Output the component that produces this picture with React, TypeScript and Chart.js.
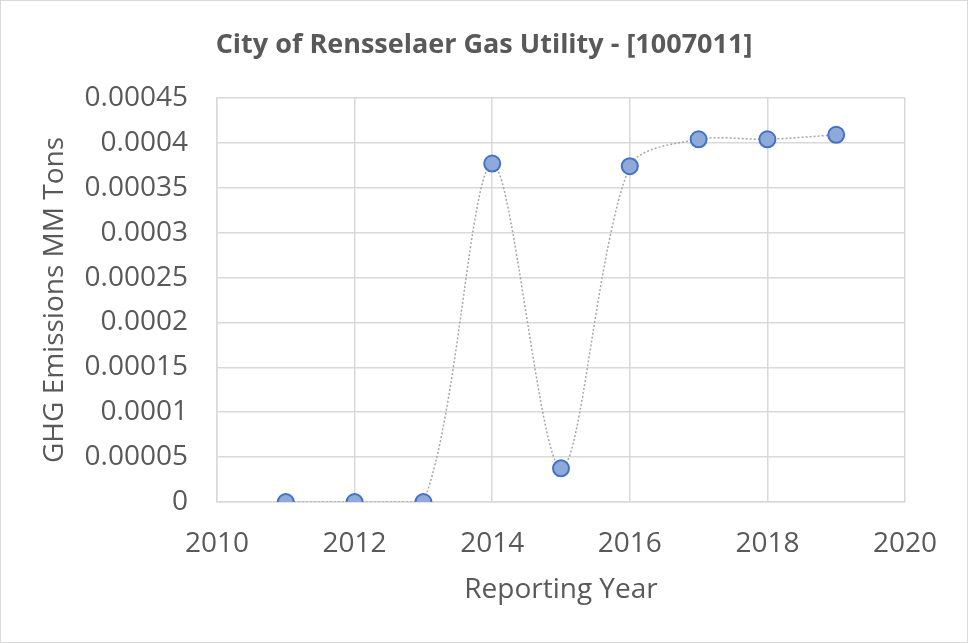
import React, { useEffect, useRef } from "react";
import { Chart, registerables } from "chart.js";

Chart.register(...registerables);

const years = [2011, 2012, 2013, 2014, 2015, 2016, 2017, 2018, 2019];
const emissions = [0, 0, 0, 0.000377, 0.0000375, 0.000374, 0.000404, 0.000404, 0.000409];
const titleText = "City of Rensselaer Gas Utility - [1007011]";
const xTitle = "Reporting Year";
const yTitle = "GHG Emissions MM Tons";

const FONT = "'Open Sans', 'Liberation Sans', sans-serif";
const TEXT = "#595959";
const GRID = "#d9d9d9";

const borderPlugin = {
  id: "outerBorder",
  afterDraw(chart: any) {
    const ctx = chart.ctx;
    ctx.save();
    ctx.strokeStyle = "#d9d9d9";
    ctx.lineWidth = 1;
    ctx.strokeRect(0.5, 0.5, chart.width - 1, chart.height - 1);
    ctx.restore();
  },
};

export default function App() {
  const ref = useRef<HTMLCanvasElement>(null);
  useEffect(() => {
    document.body.style.margin = "0";
    const chart = new Chart(ref.current!, {
      type: "scatter",
      data: {
        datasets: [
          {
            data: years.map((x, i) => ({ x, y: emissions[i] })),
            showLine: true,
            tension: 0.3,
            borderColor: "#a6a6a6",
            borderWidth: 1.5,
            borderDash: [2, 2],
            pointRadius: 8,
            pointBackgroundColor: "#8eaadb",
            pointBorderColor: "#4472c4",
            pointBorderWidth: 2,
          },
        ],
      },
      options: {
        responsive: false,
        animation: false,
        devicePixelRatio: 1,
        layout: { padding: 0 },
        plugins: {
          legend: { display: false },
          tooltip: { enabled: false },
          title: {
            display: true,
            text: titleText,
            color: TEXT,
            font: { family: FONT, size: 27, weight: "bold" },
            padding: { top: 29, bottom: 36.6 },
          },
        },
        scales: {
          x: {
            type: "linear",
            min: 2010,
            max: 2020,
            ticks: {
              stepSize: 2,
              color: TEXT,
              padding: 25,
              font: { family: FONT, size: 28 },
              callback: (v: any) => String(v),
            },
            grid: { color: GRID, lineWidth: 1.5, drawTicks: false },
            border: { color: GRID, width: 1.5 },
            title: {
              display: true,
              text: xTitle,
              color: TEXT,
              font: { family: FONT, size: 28 },
              padding: { top: 0, bottom: 36 },
            },
            afterFit: (axis: any) => {
              axis.height = 141;
            },
          },
          y: {
            type: "linear",
            min: 0,
            max: 0.00045,
            ticks: {
              stepSize: 0.00005,
              color: TEXT,
              padding: 29,
              font: { family: FONT, size: 28 },
              callback: (v: any) => String(parseFloat(Number(v).toFixed(6))),
            },
            grid: { color: GRID, lineWidth: 1.5, drawTicks: false },
            border: { color: GRID, width: 1.5 },
            title: {
              display: true,
              text: yTitle,
              color: TEXT,
              font: { family: FONT, size: 28 },
              padding: { top: 38, bottom: 0 },
            },
            afterFit: (axis: any) => {
              axis.width = 217;
            },
          },
          yRight: {
            type: "linear",
            position: "right",
            display: true,
            ticks: { display: false },
            grid: { display: false, drawTicks: false },
            border: { display: false },
            afterFit: (axis: any) => {
              axis.width = 63;
            },
          },
        },
      },
      plugins: [borderPlugin],
    });
    return () => chart.destroy();
  }, []);
  return <canvas ref={ref} width={968} height={643} style={{ display: "block" }} />;
}
